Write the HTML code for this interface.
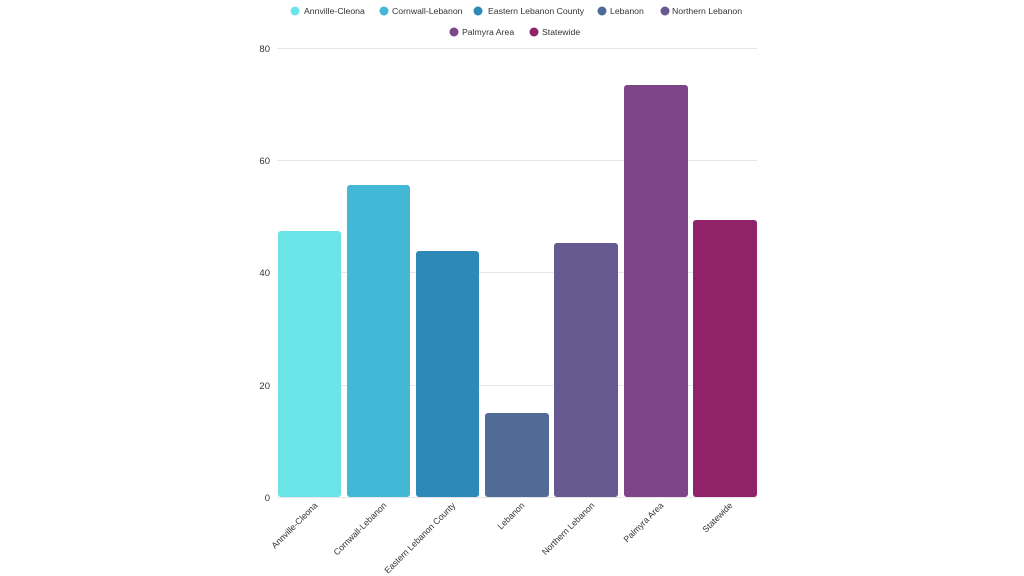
<!DOCTYPE html>
<html><head><meta charset="utf-8"><style>html,body{margin:0;padding:0;background:#fff}svg{display:block}</style></head>
<body>
<svg width="1024" height="576" xmlns="http://www.w3.org/2000/svg" font-family="Liberation Sans, sans-serif">
<rect width="1024" height="576" fill="#fff"/>
<g stroke="#e6e6e6" stroke-width="1">
<line x1="277" y1="48.5" x2="757" y2="48.5"/>
<line x1="277" y1="160.5" x2="757" y2="160.5"/>
<line x1="277" y1="272.5" x2="757" y2="272.5"/>
<line x1="277" y1="385.5" x2="757" y2="385.5"/>
<line x1="277" y1="497.5" x2="757" y2="497.5"/>
</g>
<g font-size="9.5" fill="#333" text-anchor="end">
<text x="270" y="52">80</text>
<text x="270" y="164">60</text>
<text x="270" y="276">40</text>
<text x="270" y="389">20</text>
<text x="270" y="501">0</text>
</g>
<g>
<rect x="278" y="231" width="63" height="266" rx="3" fill="#6be4e8"/>
<rect x="347" y="185" width="63" height="312" rx="3" fill="#43b8d6"/>
<rect x="416" y="251" width="63" height="246" rx="3" fill="#2c89b8"/>
<rect x="485" y="413" width="64" height="84" rx="3" fill="#4f6b96"/>
<rect x="554" y="243" width="64" height="254" rx="3" fill="#655990"/>
<rect x="624" y="85" width="64" height="412" rx="3" fill="#7f4589"/>
<rect x="693" y="220" width="64" height="277" rx="3" fill="#8f2269"/>
</g>
<g font-size="8.7" fill="#333" text-anchor="end">
<text transform="translate(318,506) rotate(-45)">Annville-Cleona</text>
<text transform="translate(387,506) rotate(-45)">Cornwall-Lebanon</text>
<text transform="translate(456,506) rotate(-45)">Eastern Lebanon County</text>
<text transform="translate(525,506) rotate(-45)">Lebanon</text>
<text transform="translate(595,506) rotate(-45)">Northern Lebanon</text>
<text transform="translate(664,506) rotate(-45)">Palmyra Area</text>
<text transform="translate(733,506) rotate(-45)">Statewide</text>
</g>
<g font-size="8.7" fill="#333">
<circle cx="295" cy="11" r="4.5" fill="#6be4e8"/><text x="304" y="14">Annville-Cleona</text>
<circle cx="384" cy="11" r="4.5" fill="#43b8d6"/><text x="392" y="14">Cornwall-Lebanon</text>
<circle cx="478" cy="11" r="4.5" fill="#2c89b8"/><text x="488" y="14">Eastern Lebanon County</text>
<circle cx="602" cy="11" r="4.5" fill="#4f6b96"/><text x="610" y="14">Lebanon</text>
<circle cx="665" cy="11" r="4.5" fill="#655990"/><text x="672" y="14">Northern Lebanon</text>
<circle cx="454" cy="32" r="4.5" fill="#7f4589"/><text x="462" y="35">Palmyra Area</text>
<circle cx="534" cy="32" r="4.5" fill="#8f2269"/><text x="542" y="35">Statewide</text>
</g>
</svg>
</body></html>
